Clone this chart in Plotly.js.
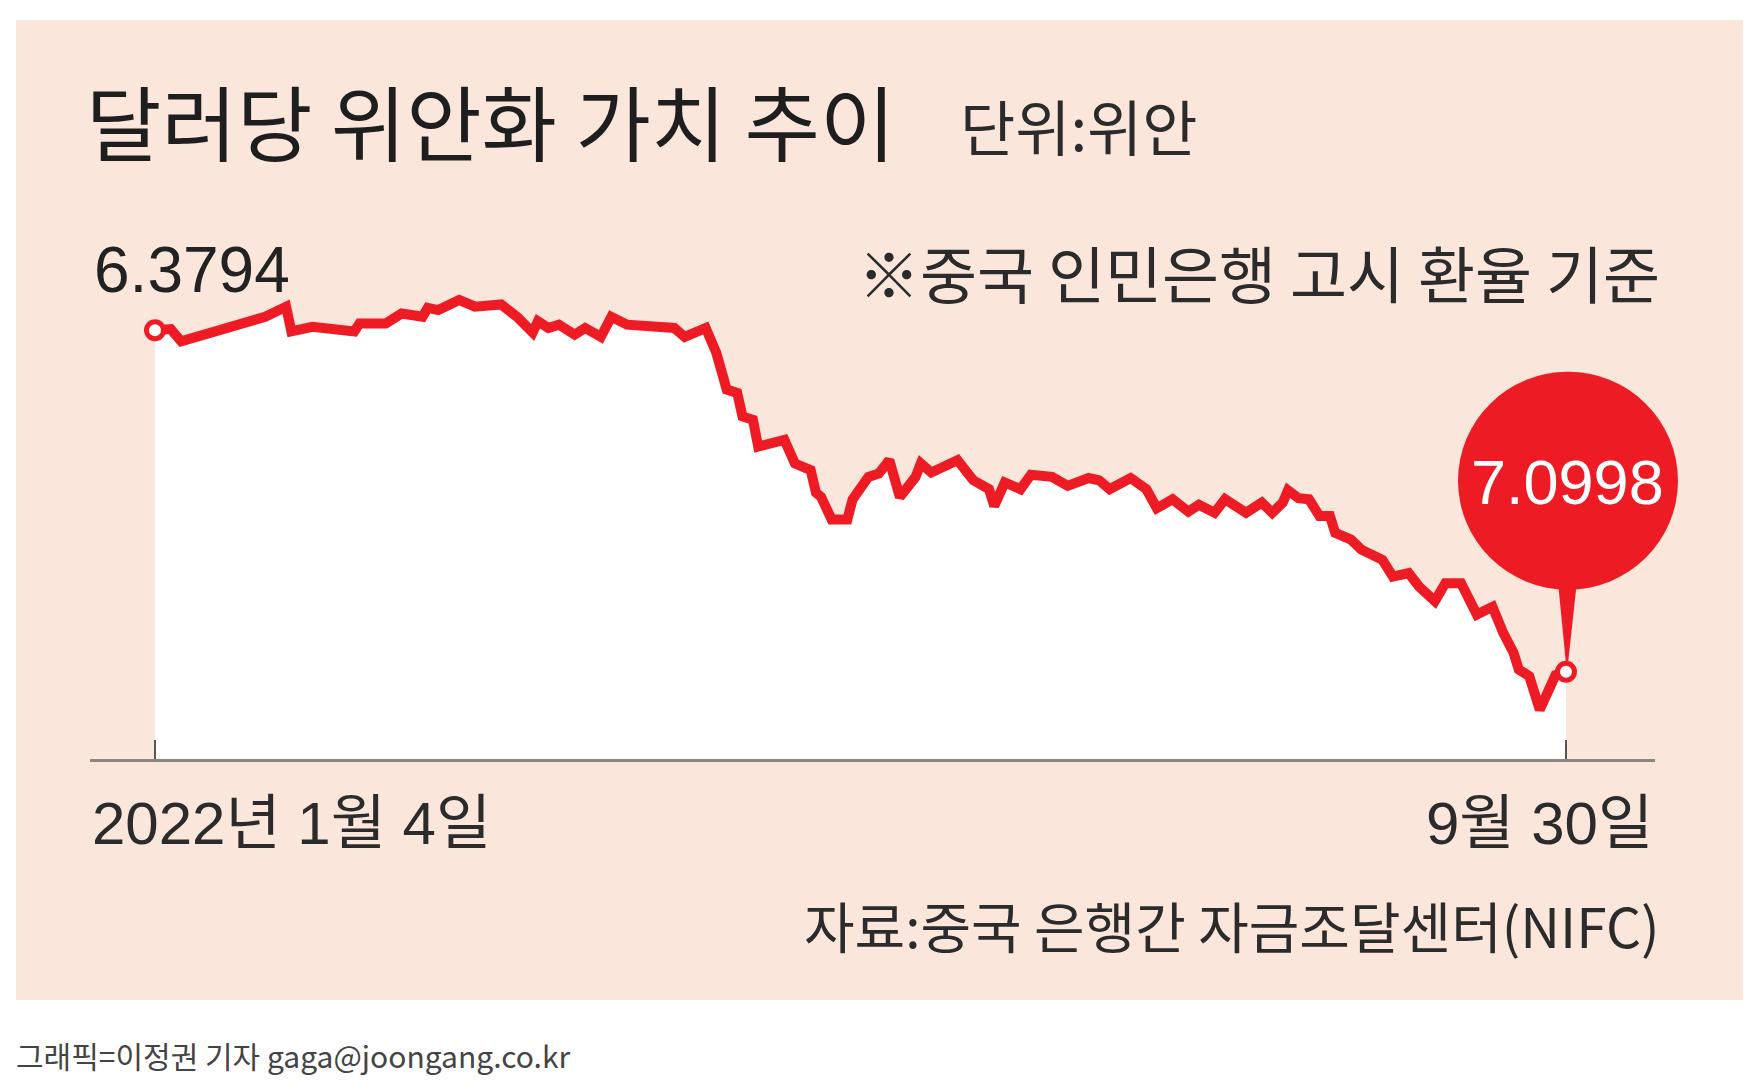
<!DOCTYPE html>
<html>
<head>
<meta charset="utf-8">
<script src="https://cdn.plot.ly/plotly-3.0.1.min.js"></script>
<style>html,body{margin:0;padding:0;background:#fff;}#chart{width:1756px;height:1086px;}</style>
</head>
<body>
<div id="chart"></div>
<script>
// ---- data ----
const dates = ['2022-01-04','2022-01-07','2022-01-09','2022-01-14','2022-01-20','2022-01-25','2022-01-29','2022-01-30','2022-02-03','2022-02-11',
'2022-02-12','2022-02-17','2022-02-20','2022-02-24','2022-02-25','2022-02-27','2022-03-03','2022-03-06','2022-03-11','2022-03-14',
'2022-03-17','2022-03-18','2022-03-20','2022-03-22','2022-03-25','2022-03-27','2022-03-30','2022-04-01','2022-04-04','2022-04-10',
'2022-04-13','2022-04-15','2022-04-19','2022-04-21','2022-04-23','2022-04-25','2022-04-26','2022-04-28','2022-04-29','2022-05-04',
'2022-05-06','2022-05-09','2022-05-10','2022-05-11','2022-05-13','2022-05-16','2022-05-17','2022-05-20','2022-05-22','2022-05-24',
'2022-05-26','2022-05-29','2022-05-30','2022-06-01','2022-06-06','2022-06-09','2022-06-12','2022-06-13','2022-06-15','2022-06-18',
'2022-06-20','2022-06-24','2022-06-27','2022-07-01','2022-07-03','2022-07-05','2022-07-09','2022-07-12','2022-07-14','2022-07-17',
'2022-07-20','2022-07-22','2022-07-25','2022-07-27','2022-07-31','2022-08-03','2022-08-05','2022-08-07','2022-08-08','2022-08-10',
'2022-08-12','2022-08-14','2022-08-16','2022-08-17','2022-08-20','2022-08-22','2022-08-26','2022-08-28','2022-08-31','2022-09-02',
'2022-09-05','2022-09-07','2022-09-10','2022-09-13','2022-09-16','2022-09-18','2022-09-20','2022-09-21','2022-09-23','2022-09-25',
'2022-09-27','2022-09-28','2022-09-30'];
const cnyPerUsd = [6.3794,6.3770,6.4030,6.3865,6.3652,6.3511,6.3298,6.3818,6.3723,6.3818,
6.3652,6.3652,6.3440,6.3511,6.3322,6.3369,6.3156,6.3298,6.3251,6.3511,
6.3841,6.3605,6.3747,6.3676,6.3888,6.3747,6.3936,6.3511,6.3676,6.3723,
6.3747,6.3936,6.3747,6.4266,6.5046,6.5117,6.5613,6.5683,6.6250,6.6109,
6.6605,6.6746,6.7219,6.7313,6.7785,6.7785,6.7360,6.6888,6.6817,6.6534,
6.7313,6.6888,6.6605,6.6794,6.6534,6.6959,6.7148,6.7502,6.7006,6.7148,
6.6841,6.6888,6.7077,6.6912,6.6959,6.7148,6.6912,6.7148,6.7549,6.7360,
6.7620,6.7478,6.7644,6.7360,6.7644,6.7431,6.7644,6.7431,6.7172,6.7337,
6.7360,6.7715,6.7715,6.8069,6.8211,6.8423,6.8636,6.8990,6.8919,6.9203,
6.9510,6.9132,6.9132,6.9793,6.9628,7.0171,7.0596,7.0950,7.1092,7.1801,
7.1234,7.1069,7.0998];
const tickLabels = ['2022년 1월 4일', '9월 30일'];
const titleText = '달러당 위안화 가치 추이';
const unitText = '단위:위안';
const noteText = '※중국 인민은행 고시 환율 기준';
const sourceText = '자료:중국 은행간 자금조달센터(NIFC)';
const creditText = '그래픽=이정권 기자 gaga@joongang.co.kr';

// ---- layout geometry ----
const W = 1756, H = 1086;
const M = {l: 90, r: 101, t: 200, b: 327};
const PW = W - M.l - M.r, PH = H - M.t - M.b;
const px = x => (x - M.l) / PW;           // pixel -> paper x
const py = y => (H - M.b - y) / PH;       // pixel -> paper y
const yRange = [7.2839, 6.1047];
const xRange = ['2021-12-22 14:38', '2022-10-16 23:17'];
const iso = s => Date.parse(s.replace(' ', 'T') + (s.length > 10 ? ':00Z' : 'T00:00:00Z'));
const xToPaper = d => (iso(d) - iso(xRange[0])) / (iso(xRange[1]) - iso(xRange[0]));
const yToPaper = v => (yRange[0] - v) / (yRange[0] - yRange[1]);

const RED = '#ed1c24';
const KR = '"Noto Sans CJK KR", "Noto Sans", sans-serif';
const NUM = '"Liberation Sans", Arial, "Noto Sans CJK KR", sans-serif';

const n = dates.length;
const first = {x: dates[0], y: cnyPerUsd[0]};
const last = {x: dates[n - 1], y: cnyPerUsd[n - 1]};

const traces = [
  { // baseline for white area
    x: [first.x, last.x], y: [yRange[0], yRange[0]],
    mode: 'lines', line: {width: 0, color: 'rgba(0,0,0,0)'}, hoverinfo: 'skip', showlegend: false
  },
  {
    x: dates, y: cnyPerUsd, mode: 'lines', fill: 'tonexty', fillcolor: '#ffffff',
    line: {color: RED, width: 10, shape: 'linear'}, hoverinfo: 'skip', showlegend: false
  },
  {
    x: [first.x, last.x], y: [first.y, last.y], mode: 'markers',
    marker: {symbol: 'circle', size: 17, color: '#ffffff', line: {color: RED, width: 5}},
    hoverinfo: 'skip', showlegend: false
  }
];

const ax = xToPaper(last.x), ay = yToPaper(last.y);
const shapes = [
  {type: 'rect', xref: 'paper', yref: 'paper', layer: 'below',
   x0: px(16), x1: px(1743), y0: py(1000), y1: py(20),
   fillcolor: '#fbe6dc', line: {width: 0}},
  {type: 'circle', xref: 'paper', yref: 'paper', layer: 'below',
   xsizemode: 'pixel', ysizemode: 'pixel', xanchor: ax, yanchor: ay,
   x0: 2 - 110, x1: 2 + 110, y0: 191 - 109, y1: 191 + 109,
   fillcolor: RED, line: {width: 0}},
  {type: 'path', xref: 'paper', yref: 'paper', layer: 'below',
   xsizemode: 'pixel', ysizemode: 'pixel', xanchor: ax, yanchor: ay,
   path: 'M -9,100 L 12,100 L 2,8 L 0,8 Z',
   fillcolor: RED, line: {width: 0}}
];

const annotations = [
  {text: titleText, xref: 'paper', yref: 'paper', x: px(84), y: py(120), xanchor: 'left', yanchor: 'middle',
   showarrow: false, font: {family: KR, size: 82, color: '#1e1e1e'}},
  {text: unitText, xref: 'paper', yref: 'paper', x: px(958), y: py(125), xanchor: 'left', yanchor: 'middle',
   showarrow: false, font: {family: KR, size: 60, color: '#2b2b2b'}},
  {text: first.y.toFixed(4), xref: 'paper', yref: 'paper', x: px(92), y: py(270), xanchor: 'left', yanchor: 'middle',
   showarrow: false, font: {family: NUM, size: 64, color: '#222222'}},
  {text: noteText, xref: 'paper', yref: 'paper', x: px(1662), y: py(272), xanchor: 'right', yanchor: 'middle',
   showarrow: false, font: {family: KR, size: 62, color: '#2b2b2b'}},
  {text: last.y.toFixed(4), xref: 'paper', yref: 'paper', x: ax, y: ay, xshift: 2, yshift: 190,
   xanchor: 'center', yanchor: 'middle', showarrow: false, font: {family: NUM, size: 63, color: '#ffffff'}},
  {text: tickLabels[0], xref: 'paper', yref: 'paper', x: 0, y: py(823), xanchor: 'left', yanchor: 'middle',
   showarrow: false, font: {family: NUM, size: 60, color: '#2b2b2b'}},
  {text: tickLabels[1], xref: 'paper', yref: 'paper', x: 1, y: py(823), xanchor: 'right', yanchor: 'middle',
   showarrow: false, font: {family: NUM, size: 60, color: '#2b2b2b'}},
  {text: sourceText, xref: 'paper', yref: 'paper', x: px(1662), y: py(924), xanchor: 'right', yanchor: 'middle',
   showarrow: false, font: {family: KR, size: 55, color: '#2b2b2b'}},
  {text: creditText, xref: 'paper', yref: 'paper', x: px(14), y: py(1055), xanchor: 'left', yanchor: 'middle',
   showarrow: false, font: {family: KR, size: 30, color: '#444444'}}
];

const layout = {
  width: W, height: H, margin: M,
  paper_bgcolor: '#ffffff', plot_bgcolor: 'rgba(0,0,0,0)',
  showlegend: false,
  xaxis: {
    type: 'date', range: xRange, fixedrange: true,
    showgrid: false, zeroline: false,
    showline: true, linecolor: '#8d8581', linewidth: 3,
    tickmode: 'array', tickvals: [first.x, last.x], ticks: 'inside', ticklen: 19, tickwidth: 2, tickcolor: '#555555',
    showticklabels: false
  },
  yaxis: {
    range: yRange, fixedrange: true, visible: false, showgrid: false, zeroline: false
  },
  shapes: shapes,
  annotations: annotations
};

Plotly.newPlot('chart', traces, layout, {displayModeBar: false, staticPlot: true});
</script>
</body>
</html>
